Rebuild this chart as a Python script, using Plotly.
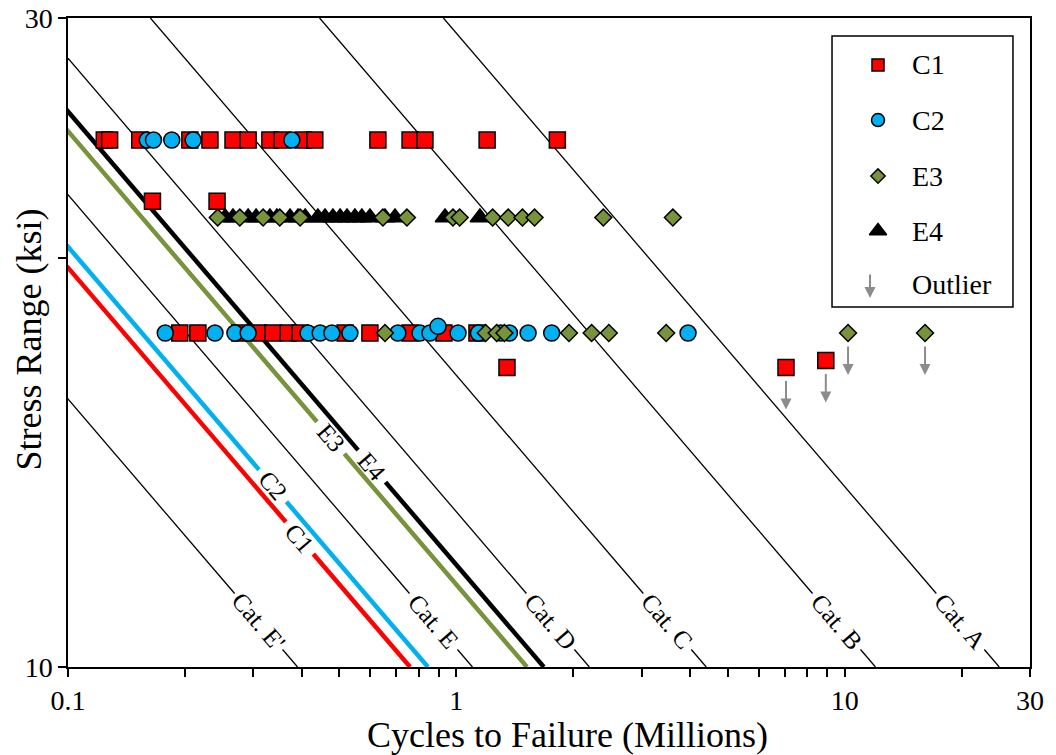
import math
import plotly.graph_objects as go

FONT = "Liberation Serif"

# ---------------------------------------------------------------------------
# Test results: stress range (ksi) and cycles to failure (millions)
# ---------------------------------------------------------------------------
C1_STRESS = [24.4, 22.0, 17.6, 16.6, 16.8]
C1_CYCLES = [
    [0.124, 0.128, 0.153, 0.206, 0.232, 0.266, 0.291, 0.331, 0.356, 0.403,
     0.432, 0.628, 0.760, 0.830, 1.20, 1.82],
    [0.165, 0.242],
    [0.194, 0.216, 0.277, 0.309, 0.337, 0.369, 0.396, 0.517, 0.599, 0.760,
     0.929, 1.13],
    [1.35, 7.06],
    [8.94],
]

C2_STRESS = [24.4, 17.6, 17.8]
C2_CYCLES = [
    [0.160, 0.166, 0.185, 0.210, 0.377],
    [0.178, 0.239, 0.269, 0.291, 0.415, 0.446, 0.478, 0.532, 0.707, 0.806,
     0.855, 1.01, 1.14, 1.30, 1.37, 1.53, 1.76, 3.95],
    [0.897],
]

E3_STRESS = [21.4, 17.6]
E3_CYCLES = [
    [0.243, 0.277, 0.318, 0.351, 0.396, 0.647, 0.746, 0.980, 1.02, 1.24,
     1.36, 1.48, 1.59, 2.39, 3.61],
    [0.655, 1.19, 1.27, 1.33, 1.95, 2.23, 2.47, 3.47, 10.2, 16.1],
]

E4_STRESS = [21.4]
E4_CYCLES = [
    [0.254, 0.266, 0.291, 0.305, 0.331, 0.345, 0.373, 0.391, 0.408, 0.440,
     0.459, 0.481, 0.502, 0.523, 0.548, 0.571, 0.599, 0.655, 0.695, 0.935,
     1.15],
]

# Run-outs (tests stopped without failure)
OUTLIER_CYCLES = [7.06, 8.94, 10.2, 16.1]
OUTLIER_STRESS = [16.6, 16.8, 17.6, 17.6]

# AASHTO detail categories: N = A / S^3  (A in ksi^3 * cycles)
CAT_NAMES = ["Cat. A", "Cat. B", "Cat. C", "Cat. D", "Cat. E", "Cat. E'"]
CAT_COEF = [250e8, 120e8, 44e8, 22e8, 11e8, 3.9e8]
CAT_LABEL_STRESS = 10.8

# Design curves fitted to each specimen group
FIT_NAMES = ["C1", "C2", "E3", "E4"]
FIT_COEF = [7.60e8, 8.45e8, 1.52e9, 1.68e9]
FIT_LABEL_STRESS = [12.44, 13.59, 14.74, 14.05]

X_RANGE = [0.1, 30]
Y_RANGE = [10, 30]
X_TICKS = [0.1, 1, 10, 30]
X_TICK_TEXT = ["0.1", "1", "10", "30"]
X_MINOR = [0.2, 0.3, 0.4, 0.5, 0.6, 0.7, 0.8, 0.9,
           2, 3, 4, 5, 6, 7, 8, 9, 20]
Y_TICKS = [10, 20, 30]
Y_TICK_TEXT = ["10", "", "30"]

# ---------------------------------------------------------------------------
# Layout geometry
# ---------------------------------------------------------------------------
W, H = 1056, 755
M_L, M_R, M_T, M_B = 68, 26, 18, 88
PLOT_W = W - M_L - M_R
PLOT_H = H - M_T - M_B
PX_PER_DEC_X = PLOT_W / (math.log10(X_RANGE[1]) - math.log10(X_RANGE[0]))
PX_PER_DEC_Y = PLOT_H / (math.log10(Y_RANGE[1]) - math.log10(Y_RANGE[0]))
# S-N lines have slope -1/3 in log-log space
LINE_ANGLE = math.degrees(math.atan((PX_PER_DEC_Y / 3) / PX_PER_DEC_X))

RED = "#ff0000"
BLUE = "#00b0f0"
GREEN = "#77933c"
BLACK = "#000000"
GREY = "#8c8c8c"
FIT_COLORS = [RED, BLUE, GREEN, BLACK]


def cycles_at(coef, stress):
    return coef / stress ** 3 / 1e6


def split_line(coef, s_label, half_gap_px):
    """Points of an S-N line from S=30 to S=10 with a gap around s_label."""
    g = 10 ** (half_gap_px / PX_PER_DEC_Y)
    s_pts = [Y_RANGE[1], s_label * g, None, s_label / g, Y_RANGE[0]]
    n_pts = [None if s is None else cycles_at(coef, s) for s in s_pts]
    return n_pts, s_pts


def flatten(levels, cycles):
    xs, ys = [], []
    for s, ns in zip(levels, cycles):
        xs.extend(ns)
        ys.extend([s] * len(ns))
    return xs, ys


fig = go.Figure()
annotations = []

# Detail category lines
for name, coef in zip(CAT_NAMES, CAT_COEF):
    xs, ys = split_line(coef, CAT_LABEL_STRESS, 28)
    fig.add_trace(go.Scatter(x=xs, y=ys, mode="lines",
                             line=dict(color=BLACK, width=1.3),
                             hoverinfo="skip", showlegend=False))
    annotations.append(dict(
        x=math.log10(cycles_at(coef, CAT_LABEL_STRESS)),
        y=math.log10(CAT_LABEL_STRESS), xref="x", yref="y",
        text=name, showarrow=False, textangle=LINE_ANGLE,
        font=dict(family=FONT, size=25, color=BLACK),
        xanchor="center", yanchor="middle"))

# Fitted design curves
for name, coef, s_lab, color in zip(FIT_NAMES, FIT_COEF, FIT_LABEL_STRESS,
                                     FIT_COLORS):
    xs, ys = split_line(coef, s_lab, 16)
    fig.add_trace(go.Scatter(x=xs, y=ys, mode="lines",
                             line=dict(color=color, width=4.5),
                             hoverinfo="skip", showlegend=False))
    annotations.append(dict(
        x=math.log10(cycles_at(coef, s_lab)), y=math.log10(s_lab),
        xref="x", yref="y", text=name, showarrow=False,
        textangle=LINE_ANGLE,
        font=dict(family=FONT, size=25, color=BLACK),
        xanchor="center", yanchor="middle"))

# Test data markers
series = [
    ("C1", C1_STRESS, C1_CYCLES, "square", 16, RED),
    ("C2", C2_STRESS, C2_CYCLES, "circle", 16, BLUE),
    ("E4", E4_STRESS, E4_CYCLES, "triangle-up", 17, BLACK),
    ("E3", E3_STRESS, E3_CYCLES, "diamond", 13, GREEN),
]
for name, levels, cycles, symbol, size, color in series:
    xs, ys = flatten(levels, cycles)
    fig.add_trace(go.Scatter(
        x=xs, y=ys, mode="markers", name=name, showlegend=False,
        marker=dict(symbol=symbol, size=size, color=color,
                    line=dict(color=BLACK, width=1.5))))

# Run-out arrows below the affected points
for n, s in zip(OUTLIER_CYCLES, OUTLIER_STRESS):
    annotations.append(dict(
        x=math.log10(n), y=math.log10(s), xref="x", yref="y",
        text="", showarrow=True, ax=0, ay=-30, yshift=-42,
        arrowhead=2, arrowsize=1.1, arrowwidth=2, arrowcolor=GREY))

# ---------------------------------------------------------------------------
# Legend (drawn in paper coordinates)
# ---------------------------------------------------------------------------
LEG_MARK_X = 0.842
LEG_TEXT_X = 0.875
LEG_ROWS_Y = [0.9276, 0.8428, 0.7565, 0.6718, 0.5886]
legend_items = [
    ("C1", "square", 12, RED),
    ("C2", "circle", 13, BLUE),
    ("E3", "diamond", 11, GREEN),
    ("E4", "triangle-up", 15, BLACK),
]
for (label, symbol, size, color), yy in zip(legend_items, LEG_ROWS_Y):
    fig.add_trace(go.Scatter(
        x=[LEG_MARK_X], y=[yy], xaxis="x2", yaxis="y2", mode="markers",
        showlegend=False, hoverinfo="skip", cliponaxis=False,
        marker=dict(symbol=symbol, size=size, color=color,
                    line=dict(color=BLACK, width=1.5))))
for label, yy in zip(["C1", "C2", "E3", "E4", "Outlier"], LEG_ROWS_Y):
    annotations.append(dict(
        x=LEG_TEXT_X, y=yy, xref="paper", yref="paper", text=label,
        showarrow=False, xanchor="left", yanchor="middle",
        font=dict(family=FONT, size=28, color=BLACK)))
annotations.append(dict(
    x=0.8337, y=0.5686, xref="paper", yref="paper", text="",
    showarrow=True, ax=0, ay=-25, arrowhead=2, arrowsize=1.1,
    arrowwidth=2, arrowcolor=GREY))

shapes = [dict(type="rect", xref="paper", yref="paper",
               x0=0.7942, x1=0.9823, y0=0.5547, y1=0.9723,
               line=dict(color=BLACK, width=1.5), fillcolor="rgba(0,0,0,0)",
               layer="above")]

# Axis titles
annotations.append(dict(
    x=0.519, y=-0.105, xref="paper", yref="paper",
    text="Cycles to Failure (Millions)", showarrow=False,
    xanchor="center", yanchor="middle",
    font=dict(family=FONT, size=36, color=BLACK)))
annotations.append(dict(
    x=-0.041, y=0.504, xref="paper", yref="paper",
    text="Stress Range (ksi)", showarrow=False, textangle=-90,
    xanchor="center", yanchor="middle",
    font=dict(family=FONT, size=36, color=BLACK)))

axis_common = dict(
    showline=True, linecolor=BLACK, linewidth=1.5, mirror=True,
    ticks="outside", ticklen=8, tickwidth=1.5, tickcolor=BLACK,
    showgrid=False, zeroline=False, automargin=False,
    tickfont=dict(family=FONT, size=28, color=BLACK),
)

fig.update_layout(
    width=W, height=H,
    margin=dict(l=M_L, r=M_R, t=M_T, b=M_B),
    paper_bgcolor="white", plot_bgcolor="rgba(0,0,0,0)",
    showlegend=False,
    xaxis=dict(type="log",
               range=[math.log10(X_RANGE[0]), math.log10(X_RANGE[1])],
               tickmode="array", tickvals=X_TICKS, ticktext=X_TICK_TEXT,
               minor=dict(tickmode="array", tickvals=X_MINOR,
                          ticks="outside", ticklen=8, tickwidth=1.5,
                          tickcolor=BLACK),
               **axis_common),
    yaxis=dict(type="log",
               range=[math.log10(Y_RANGE[0]), math.log10(Y_RANGE[1])],
               tickmode="array", tickvals=Y_TICKS, ticktext=Y_TICK_TEXT,
               **axis_common),
    xaxis2=dict(overlaying="x", range=[0, 1], visible=False),
    yaxis2=dict(overlaying="y", range=[0, 1], visible=False),
    annotations=annotations,
    shapes=shapes,
    font=dict(family=FONT, color=BLACK),
)

fig.write_html("out.html")
